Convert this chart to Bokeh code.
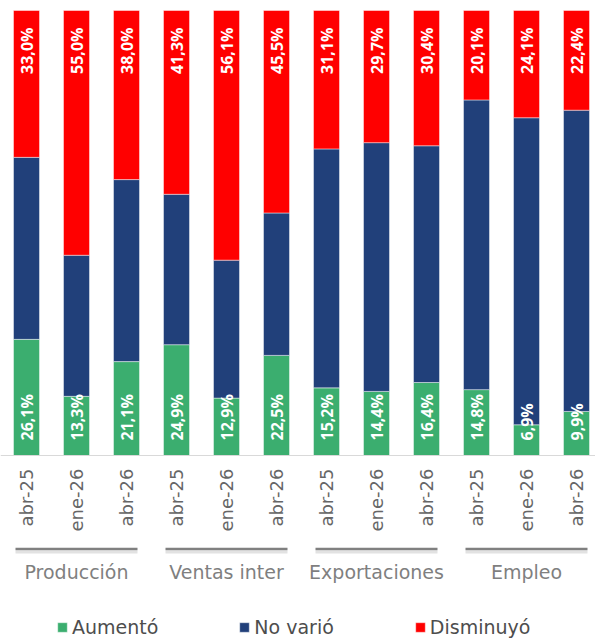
import math
from bokeh.plotting import figure
from bokeh.models import Range1d, ColumnDataSource, Legend, LegendItem, Span
from bokeh.embed import file_html
from bokeh.resources import INLINE
from bokeh.core.properties import value

# ---------------- data ----------------
groups = ["Producción", "Ventas inter", "Exportaciones", "Empleo"]
periods = ["abr-25", "ene-26", "abr-26"]
aumento = [26.1, 13.3, 21.1, 24.9, 12.9, 22.5, 15.2, 14.4, 16.4, 14.8, 6.9, 9.9]
no_vario = [40.9, 31.7, 40.9, 33.8, 31.0, 32.0, 53.7, 55.9, 53.2, 65.1, 69.0, 67.7]
disminuyo = [33.0, 55.0, 38.0, 41.3, 56.1, 45.5, 31.1, 29.7, 30.4, 20.1, 24.1, 22.4]
series_names = ["Aumentó", "No varió", "Disminuyó"]

# ---------------- styling / layout ----------------
GREEN, BLUE, RED = "#3BAE6F", "#21407A", "#FF0000"
W, H = 595, 644
PX_PER_UNIT_Y = 4.45      # pixels per percentage point
PX_PER_SLOT = 50.0        # pixels between bar centres
X0_REF, Y0_REF = 26.0, 455.0  # position of bar 0 centre / baseline


def rx(px):
    return (px - X0_REF) / PX_PER_SLOT


def ry(py):
    return (Y0_REF - py) / PX_PER_UNIT_Y


n = len(aumento)
xs = list(range(n))

p = figure(width=W, height=H,
           x_range=Range1d(rx(0), rx(W)),
           y_range=Range1d(ry(H), ry(0)),
           x_axis_location=None, y_axis_location=None,
           min_border=0, toolbar_location=None, output_backend="svg",
           outline_line_color=None, background_fill_color="white")
p.grid.visible = False

src = ColumnDataSource(dict(x=xs, aumento=aumento, no_vario=no_vario, disminuyo=disminuyo))
rs = p.vbar_stack(["aumento", "no_vario", "disminuyo"], x="x", width=0.52,
                  fill_color=[GREEN, BLUE, RED], line_color="white",
                  line_alpha=0.45, line_width=1, source=src)

# baseline axis line
p.add_layout(Span(location=0, dimension="width", line_color="#d9d9d9", line_width=1))

# data labels
fmt = lambda v: ("%.1f%%" % v).replace(".", ",")
p.text(x=xs, y=[15 / PX_PER_UNIT_Y] * n, text=[fmt(v) for v in aumento],
       angle=math.pi / 2, text_align="left", text_baseline="middle",
       text_font=value("Open Sans"), text_font_style="bold",
       text_font_size="16px", text_color="white")
p.text(x=xs, y=[100 - 17 / PX_PER_UNIT_Y] * n, text=[fmt(v) for v in disminuyo],
       angle=math.pi / 2, text_align="right", text_baseline="middle",
       text_font=value("Open Sans"), text_font_style="bold",
       text_font_size="16px", text_color="white")

# category (period) labels
p.text(x=xs, y=[ry(468)] * n, text=periods * len(groups),
       angle=math.pi / 2, text_align="right", text_baseline="middle",
       text_font=value("DejaVu Sans"), text_font_size="18px", text_color="#666666")

# group brackets and labels
mids = [3 * g + 1 for g in range(len(groups))]
half = 61 / PX_PER_SLOT
p.segment(x0=[m - half for m in mids], x1=[m + half for m in mids],
          y0=[ry(551.5)] * len(mids), y1=[ry(551.5)] * len(mids),
          line_color="#d6d6d6", line_width=3, line_alpha=0.7)
p.segment(x0=[m - half for m in mids], x1=[m + half for m in mids],
          y0=[ry(548.5)] * len(mids), y1=[ry(548.5)] * len(mids),
          line_color="#808080", line_width=2.5)
p.text(x=mids, y=[ry(571)] * len(mids), text=groups,
       text_align="center", text_baseline="middle",
       text_font=value("DejaVu Sans"), text_font_size="19px", text_color="#7f7f7f")

# legend
legend = Legend(items=[LegendItem(label=series_names[i], renderers=[rs[i]]) for i in range(3)],
                orientation="horizontal", location=(56, 6),
                glyph_width=12, glyph_height=12, label_standoff=4, spacing=80,
                padding=0, margin=0, border_line_alpha=0, background_fill_alpha=0,
                label_text_font="DejaVu Sans", label_text_font_size="19px",
                label_text_color="#4d4d4d", label_height=14)
p.add_layout(legend, "center")

open("out.html", "w").write(file_html(p, INLINE))
